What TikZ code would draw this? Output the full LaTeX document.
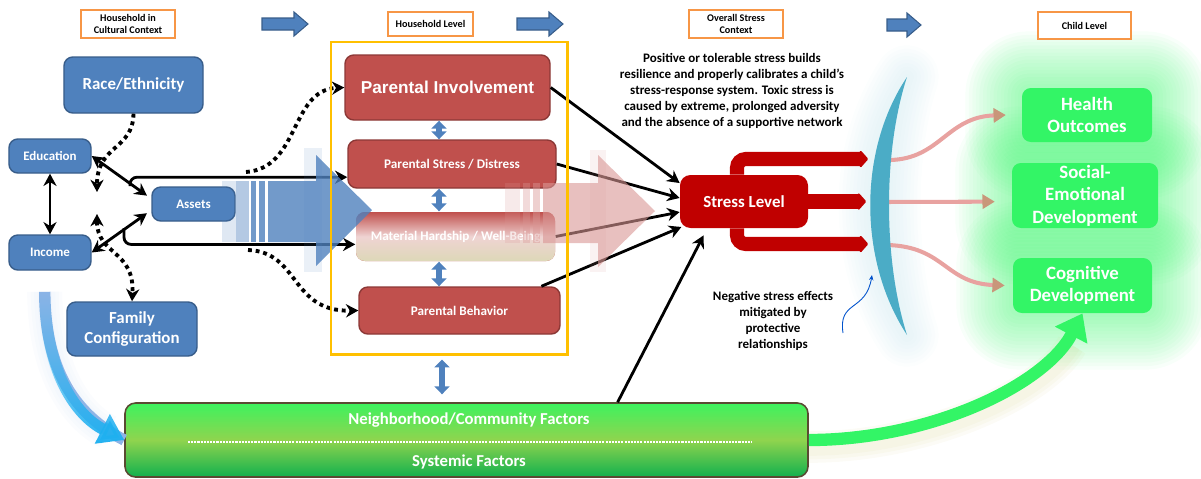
\documentclass[tikz,border=0pt]{standalone}
\usepackage{fontspec}
\setmainfont{Carlito}
\newfontfamily\arialfont{Liberation Sans}
\usetikzlibrary{arrows.meta, backgrounds, fadings}

\definecolor{hhblue}{HTML}{4F81BD}
\definecolor{hhblueline}{HTML}{385D8A}
\definecolor{parred}{HTML}{C0504D}
\definecolor{parredline}{HTML}{8C3836}
\definecolor{stressred}{HTML}{C00000}
\definecolor{hdrorange}{HTML}{F79646}
\definecolor{frameyellow}{HTML}{FFC000}
\definecolor{lensblue}{HTML}{4BACC6}
\definecolor{kidgreen}{HTML}{33F566}
\definecolor{effpink}{HTML}{E8A2A0}
\definecolor{efftip}{HTML}{C8977A}
\definecolor{shaftpink}{HTML}{D99694}
\definecolor{beige}{HTML}{DDD8B8}
\definecolor{incblue}{HTML}{8FB4E6}
\definecolor{skyblue}{HTML}{1FB0F0}
\definecolor{nbhdline}{HTML}{5A4A32}
\definecolor{nbtop}{HTML}{3EF25E}
\definecolor{nbmid}{HTML}{8FD44E}
\definecolor{nbbot}{HTML}{12B04E}

\tikzset{
  hdr/.style={draw=hdrorange, line width=0.9pt, fill=white, align=center, inner sep=0pt,
    font=\fontsize{5.8}{6.8}\selectfont\bfseries},
  goarrow/.pic={
    \filldraw[draw=hhblueline, fill=hhblue, line width=0.6pt]
      (-#1,-6) -- (#1-14,-6) -- (#1-14,-12) -- (#1,0) -- (#1-14,12) -- (#1-14,6) -- (-#1,6) -- cycle;
  },
  bluebox/.style={draw=hhblueline, line width=0.8pt, fill=hhblue, rounded corners=5pt,
    text=white, align=center, inner sep=0pt},
  bigtxt/.style={font=\fontsize{9.6}{11.3}\selectfont\bfseries},
  smalltxt/.style={font=\fontsize{7.4}{9}\selectfont\bfseries},
  redbox/.style={draw=parredline, line width=0.8pt, fill=parred, rounded corners=5pt,
    text=white, align=center, inner sep=0pt, font=\fontsize{7.5}{9}\selectfont\bfseries},
  kidbox/.style={fill=kidgreen, rounded corners=5pt, text=white, align=center, inner sep=0pt,
    font=\fontsize{10.7}{12.8}\selectfont\bfseries},
  note/.style={align=center, font=\fontsize{7.4}{9.2}\selectfont\bfseries},
  blk/.style={line width=1.6pt, -{Stealth[length=7pt,width=7.5pt]}},
  blkboth/.style={line width=1.6pt, {Stealth[length=7pt,width=7.5pt]}-{Stealth[length=7pt,width=7.5pt]}},
  dots/.style={line width=2.2pt, dash pattern=on 2.2pt off 2.2pt, -{Stealth[length=7pt,width=7.5pt]}},
  updown/.style={hhblue, line width=3.4pt, {Triangle[width=8.5pt,length=4.5pt]}-{Triangle[width=8.5pt,length=4.5pt]}},
  redarr/.style={stressred, line width=8pt, rounded corners=5pt, -{Triangle[length=5pt,width=11pt,round]}},
  effect/.style={effpink, line width=2.3pt, -{Triangle[length=7pt,width=8pt,color=efftip]}},
}

\newcommand{\lensshape}{(907,77) .. controls (858,150) and (858,260) .. (907,335)
  .. controls (883,260) and (883,150) .. (907,77) -- cycle}

\begin{document}
\begin{tikzpicture}[x=0.2mm, y=-0.2mm]
\useasboundingbox (0,0) rectangle (1201,478);

% level headers
\node[hdr, minimum width=18.8mm, minimum height=5.6mm] (hcult) at (128,24) {Household in\\Cultural Context};
\node[hdr, minimum width=17mm, minimum height=4.8mm] (hlevel) at (430.5,24) {Household Level};
\node[hdr, minimum width=18.8mm, minimum height=5.6mm] (hstress) at (736,24) {Overall Stress\\Context};
\node[hdr, minimum width=18.6mm, minimum height=5.4mm] (hchild) at (1084.5,25.5) {Child Level};
\pic at (285,24) {goarrow=23};
\pic at (540,24) {goarrow=23};
\pic at (904,25) {goarrow=17};

% household in cultural context
\node[bluebox, bigtxt, minimum width=27.8mm, minimum height=11.2mm] (race) at (133.5,85) {Race/Ethnicity};
\node[bluebox, smalltxt, minimum width=16.4mm, minimum height=6.8mm] (edu) at (50,156) {Education};
\node[bluebox, smalltxt, minimum width=16.4mm, minimum height=7mm] (inc) at (50,252.5) {Income};
\node[bluebox, smalltxt, minimum width=16.6mm, minimum height=6.8mm] (assets) at (193.5,204) {Assets};
\node[bluebox, bigtxt, minimum width=26mm, minimum height=10.8mm] (fam) at (132,329) {Family\\Configuration};

% household level
\node[redbox, minimum width=41mm, minimum height=13mm, font=\arialfont\fontsize{9.8}{11}\selectfont\bfseries] (inv) at (447.5,87.5) {Parental Involvement};
\node[redbox, minimum width=41.6mm, minimum height=9.6mm] (dist) at (452,164) {Parental Stress / Distress};
\node[redbox, draw=none, top color=parred, bottom color=beige, middle color=white!75!parred, minimum width=39.8mm, minimum height=9.8mm] (hard) at (455.5,236.5) {Material Hardship / Well-Being};
\node[redbox, minimum width=40.2mm, minimum height=9.4mm] (beh) at (459.5,310.5) {Parental Behavior};

% stress context
\node[fill=stressred, rounded corners=6pt, text=white, inner sep=0pt, font=\fontsize{9.6}{11}\selectfont\bfseries,
  minimum width=25.6mm, minimum height=10.6mm] (stress) at (744,201.5) {Stress Level};
\node[note] (toxic) at (732,91) {Positive or tolerable stress builds\\resilience and properly calibrates a child’s\\stress-response system. Toxic stress is\\caused by extreme, prolonged adversity\\and the absence of a supportive network};
\node[note] (buffer) at (773,321) {Negative stress effects\\mitigated by\\protective\\relationships};

% child level
\node[kidbox, minimum width=26mm, minimum height=10.8mm] (health) at (1087,115) {Health\\Outcomes};
\node[kidbox, minimum width=29.2mm, minimum height=13mm] (social) at (1085,195.5) {Social-\\Emotional\\Development};
\node[kidbox, minimum width=27.8mm, minimum height=11mm] (cog) at (1082.5,285.5) {Cognitive\\Development};

% neighborhood bar
\node[draw=nbhdline, line width=0.9pt, rounded corners=6pt, top color=nbtop, bottom color=nbbot,
  middle color=nbmid, minimum width=136.6mm, minimum height=14.8mm] (nbhd) at (466.5,440) {};
\node[text=white, font=\fontsize{9.5}{11}\selectfont\bfseries] (nbtop) at (469,420) {Neighborhood/Community Factors};
\node[text=white, font=\fontsize{9.5}{11}\selectfont\bfseries] (nbsys) at (469,462) {Systemic Factors};
\draw[white, line width=0.6pt, dash pattern=on 1.2pt off 0.6pt] (188,442) -- (752,442);

% soft glows
\begin{scope}[on background layer]
  \foreach \n in {health,social,cog}
    \foreach \g in {2,4,...,32}
      \fill[kidgreen, opacity=0.035, rounded corners=\g pt+4pt]
        ([shift={(-\g pt,-\g pt)}]\n.south west) rectangle ([shift={(\g pt,\g pt)}]\n.north east);
  \foreach \w in {36,32,...,4}
    \draw[lensblue!30, line width=\w pt, opacity=0.06, line join=round] \lensshape;
  \foreach \w in {20,16,...,4}
    \draw[incblue!60, line width=\w pt, opacity=0.06] ([xshift=-3pt,yshift=-12pt]inc.south) .. controls (45,370) and (75,415) .. (108,432);
  \foreach \w in {18,14,10}
    \draw[transform canvas={yshift=-4pt}, olive!50, line width=\w pt, opacity=0.06]
      (nbhd.east) .. controls (930,440) and (1045,385) .. (1072,338);
\end{scope}

% cultural context links
\draw[blkboth] (edu.south) -- (inc.north);
\draw[blkboth, shorten >=3pt] (edu.east) -- ([yshift=3pt]assets.west);
\draw[blkboth, shorten >=3pt] (inc.east) -- ([yshift=-3.5pt]assets.west);
\coordinate (jtop) at (130,186);
\coordinate (jbot) at (124,228);
\draw[blk, rounded corners=4pt] (jtop) |- ([yshift=-7.5pt]dist.west);
\draw[blk, rounded corners=4pt] (jbot) |- ([yshift=-4.5pt]hard.west);
\coordinate (rtip) at (97,192);
\coordinate (ftip) at (97,214);
\draw[dots] (race.south) .. controls (133,150) and (97,145) .. (rtip);
\draw[dots, {Stealth[length=7pt,width=7.5pt]}-{Stealth[length=7pt,width=7.5pt]}] (ftip) .. controls (97,255) and (135,250) .. (fam.north);
\coordinate (dtop) at (246,172);
\coordinate (dbot) at (248,250);
\draw[dots] (dtop) .. controls (300,168) and (290,90) .. (inv.west);
\draw[dots] (dbot) .. controls (300,252) and (290,312) .. (beh.west);

% household level into stress
\draw[blk] (inv.east) -- ([yshift=10.5pt]stress.west);
\draw[blk] (dist.east) -- ([yshift=2pt]stress.west);
\draw[blk] (hard.east) -- ([yshift=-6pt]stress.west);
\draw[blk] ([xshift=-11pt]beh.north east) -- ([xshift=1pt,yshift=-14.5pt]stress.west);
\draw[blk] ([xshift=86pt]nbhd.north) -- ([xshift=-23pt,yshift=-4pt]stress.south);

% big flow arrows
\fill[hhblue, opacity=0.18] (222,181) rectangle (249,242);
\fill[hhblue, opacity=0.3] (236,181) rectangle (249,242);
\fill[hhblue, opacity=0.12] (304,148) rectangle (322,272);
\fill[hhblue, opacity=0.8] (251,181) rectangle (256,242);
\fill[hhblue, opacity=0.8] (259,181) rectangle (265,242);
\fill[hhblue, opacity=0.8] (268,181) -- (316,181) -- (316,155) -- (372,210) -- (316,266) -- (316,242) -- (268,242) -- cycle;
\fill[shaftpink, opacity=0.2] (505,183) rectangle (520,243);
\fill[shaftpink, opacity=0.35] (523,183) rectangle (530,243);
\fill[shaftpink, opacity=0.45] (533,183) rectangle (540,243);
\fill[shaftpink, opacity=0.12] (590,150) rectangle (606,272);
\fill[shaftpink, opacity=0.6] (543,183) -- (598,183) -- (598,155) -- (655,211) -- (598,267) -- (598,243) -- (543,243) -- cycle;

% household frame
\node[draw=frameyellow, line width=1.7pt, minimum width=47.2mm, minimum height=62.4mm, inner sep=0pt] (hh) at (449,198) {};
\coordinate (ud) at (439,0);
\coordinate (ud2) at (442,0);
\draw[updown] (inv.south -| ud) -- (dist.north -| ud);
\draw[updown] (dist.south -| ud) -- (hard.north -| ud);
\draw[updown] (hard.south -| ud) -- (beh.north -| ud);
\draw[updown, shorten <=2.3pt, shorten >=4.5pt] (hh.south -| ud2) -- (nbhd.north -| ud2);

% stress outputs
\coordinate (fork) at (737,0);
\coordinate (t1) at (868,159);
\coordinate (t2) at (866,201.5);
\coordinate (t3) at (868,244);
\draw[redarr] (stress.north -| fork) |- (t1);
\draw[redarr] (stress.east) -- (t2);
\draw[redarr] (stress.south -| fork) |- (t3);

% buffered effects
\coordinate (e1) at (884,160);
\coordinate (e2) at (882,202);
\coordinate (e3) at (888,245);
\draw[effect] (e1) .. controls (940,162) and (945,117) .. ([xshift=-9pt]health.west);
\draw[effect] (e2) -- ([xshift=-9.6pt,yshift=-3.5pt]social.west);
\draw[effect] (e3) .. controls (945,247) and (945,283) .. ([xshift=-4.5pt]cog.west);
\fill[lensblue] \lensshape;
\coordinate (bstart) at (843,333);
\coordinate (bend) at (872,275);
\draw[blue!60!cyan!80!black, line width=0.5pt, -{Stealth[length=3pt,width=2.5pt]}] (bstart) .. controls (838,300) and (866,312) .. (bend);

% context to outcomes
\draw[incblue, line width=6.5pt]
  ([xshift=-3pt,yshift=-12pt]inc.south) .. controls (45,370) and (75,415) .. (nbhd.west);
\draw[skyblue, line width=6.5pt, path fading=north, -{Triangle[length=14pt,width=18pt]}]
  ([xshift=-3pt,yshift=-12pt]inc.south) .. controls (45,370) and (75,415) .. (nbhd.west);
\draw[kidgreen, line width=7pt, -{Triangle[length=14pt,width=20pt]}]
  (nbhd.east) .. controls (930,440) and (1045,385) .. (cog.south);
\end{tikzpicture}
\end{document}
